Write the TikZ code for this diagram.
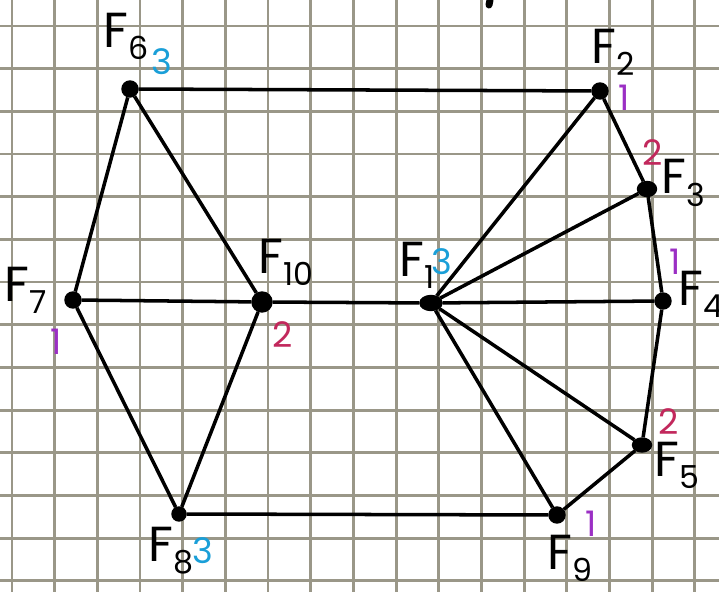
\documentclass[tikz,border=0pt]{standalone}
\usepackage{fontspec}
\setmainfont{Poppins}
\usetikzlibrary{shapes.geometric}
\definecolor{gridgray}{HTML}{9A9788}
\definecolor{numblue}{HTML}{1A9FD8}
\definecolor{numred}{HTML}{C2285C}
\definecolor{numpurple}{HTML}{9B2FC4}
\newcommand{\Fname}[1]{F\raisebox{-0.45ex}{\fontsize{9}{10}\selectfont #1}}

\begin{document}
\begin{tikzpicture}[x=0.01cm, y=-0.01cm,
        dot/.style={circle, draw, fill=black, inner sep=0pt, minimum size=0.16cm},
        edge/.style={line width=1pt},
        gridline/.style={gridgray, line width=0.8pt},
        lbl/.style={font=\fontsize{14}{16}\selectfont, inner sep=1pt},
        num/.style={font=\fontsize{10}{12}\selectfont, inner sep=1pt}]
        \fill[white] (0,0) rectangle (719,592);
        \useasboundingbox (0,0) rectangle (719,592);

        % Grid paper
        \foreach \gx in {12,54.68,...,700}
            \draw[gridline] (\gx,0) -- (\gx,592);
        \foreach \gy in {26,68.68,...,590}
            \draw[gridline] (0,\gy) -- (719,\gy);

        % Draw nodes
        \node[dot, ellipse, minimum width=0.22cm, minimum height=0.15cm] (f1) at (431,303) {};
        \node[dot] (f2) at (600,91) {};
        \node[dot, ellipse, minimum width=0.19cm, minimum height=0.15cm] (f3) at (647,189) {};
        \node[dot] (f4) at (663,301) {};
        \node[dot, ellipse, minimum width=0.19cm, minimum height=0.14cm] (f5) at (642,445) {};
        \node[dot] (f6) at (130,89) {};
        \node[dot] (f7) at (73,300) {};
        \node[dot, minimum size=0.14cm] (f8) at (179,514) {};
        \node[dot] (f9) at (557,515) {};
        \node[dot, minimum size=0.2cm] (f10) at (262,302) {};

        % Draw connections
        \draw[edge] (f6) -- (f2);
        \draw[edge] (f6) -- (f7);
        \draw[edge] (f6) -- (f10);
        \draw[edge] (f7) -- (f10);
        \draw[edge] (f10) -- (f1);
        \draw[edge] (f7) -- (f8);
        \draw[edge] (f10) -- (f8);
        \draw[edge] (f8) -- (f9);
        \draw[edge] (f1) -- (f2);
        \draw[edge] (f1) -- (f3);
        \draw[edge] (f1) -- (f4);
        \draw[edge] (f1) -- (f5);
        \draw[edge] (f1) -- (f9);
        \draw[edge] (f2) -- (f3);
        \draw[edge] (f3) -- (f4);
        \draw[edge] (f4) -- (f5);
        \draw[edge] (f5) -- (f9);

        % Labels
        \node[lbl] (l1) at (417,265) {\Fname{1}};
        \node[lbl] (l2) at (613,52) {\Fname{2}};
        \node[lbl] (l3) at (683,183) {\Fname{3}};
        \node[lbl] (l4) at (701,294) {\Fname{4}};
        \node[lbl] (l5) at (677,465) {\Fname{5}};
        \node[lbl] (l6) at (126,36) {\Fname{6}};
        \node[lbl] (l7) at (26,290) {\Fname{7}};
        \node[lbl] (l8) at (171,551) {\Fname{8}};
        \node[lbl] (l9) at (570,558) {\Fname{9}};
        \node[lbl] (l10) at (286,262) {\Fname{10}};

        % Colour numbers
        \node[num, text=numblue] (n1) at (442,262) {3};
        \node[num, text=numpurple] (n2) at (624,98) {1};
        \node[num, text=numred] (n3) at (653,153) {2};
        \node[num, text=numpurple] (n4) at (675,262) {1};
        \node[num, text=numred] (n5) at (669,422) {2};
        \node[num, text=numblue] (n6) at (162,62) {3};
        \node[num, text=numpurple] (n7) at (56,342) {1};
        \node[num, text=numblue] (n8) at (203,551) {3};
        \node[num, text=numpurple] (n9) at (591,524) {1};
        \node[num, text=numred] (n10) at (283,335) {2};

        % stray pen mark at the top
        \draw[line width=2pt, line cap=round] (490,0) -- (489,5);
    \end{tikzpicture}
\end{document}
